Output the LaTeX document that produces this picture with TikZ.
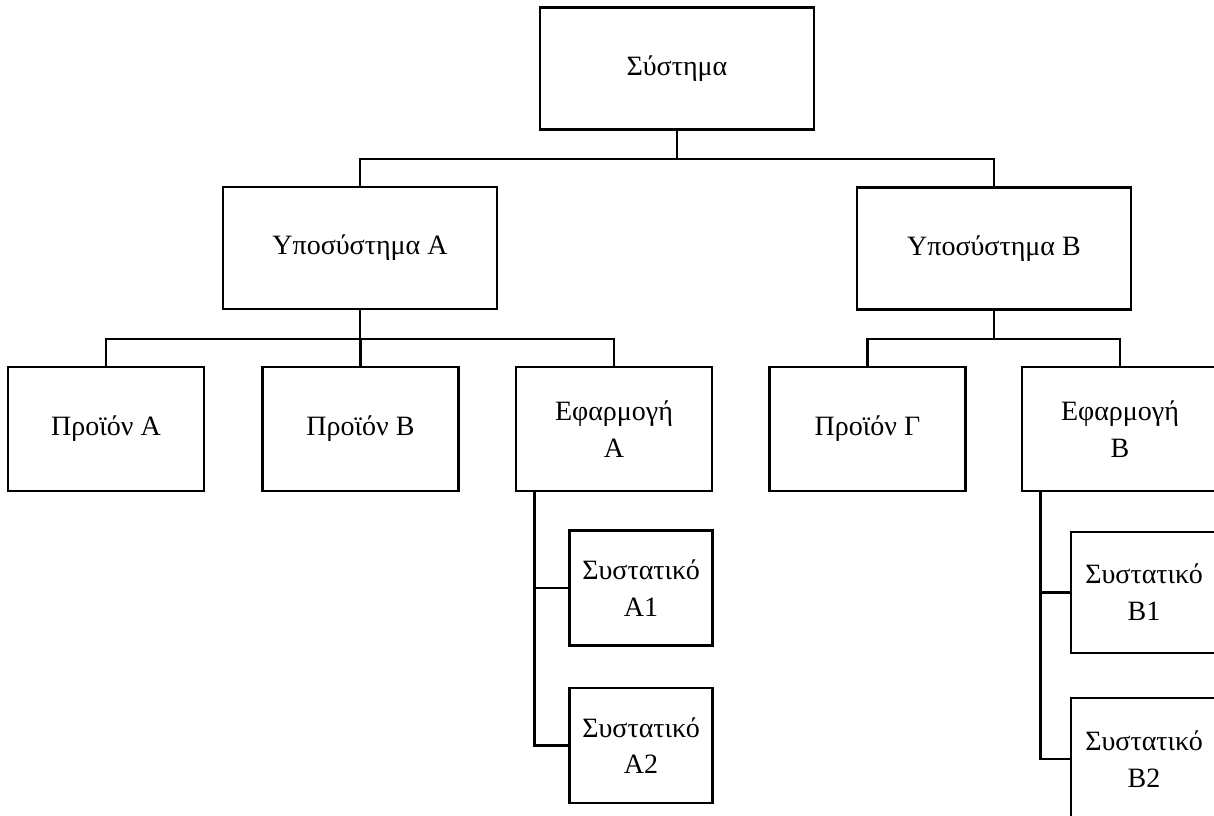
\documentclass[tikz,border=0pt]{standalone}
\usepackage{fontspec}
\setmainfont{Liberation Serif}
\usetikzlibrary{calc}
\begin{document}
\begin{tikzpicture}[x=0.75pt,y=-0.75pt,
  box/.style={draw=black,line width=2.2pt,rectangle,align=center,inner sep=0pt,
    font=\fontsize{21}{27.5}\selectfont},
  big/.style={box,minimum width=274*0.75pt,minimum height=122*0.75pt},
  mid/.style={box,minimum width=196*0.75pt,minimum height=124*0.75pt},
  small/.style={box,minimum width=143*0.75pt,minimum height=115*0.75pt},
  link/.style={draw=black,line width=2.2pt}]
\useasboundingbox (0,0) rectangle (1214,816);
\clip (0,0) rectangle (1214,816);

% top level
\node[big] (sys) at (677,68.5) {Σύστημα};

% subsystems
\node[big] (subA) at (360,248) {Υποσύστημα A};
\node[big] (subB) at (994,248.5) {Υποσύστημα B};

% products and applications
\node[mid] (pA) at (106,429) {Προϊόν A};
\node[mid] (pB) at (360.5,429) {Προϊόν B};
\node[mid] (eA) at (614,429) {Εφαρμογή\\A};
\node[mid] (pG) at (867.5,429) {Προϊόν Γ};
\node[mid] (eB) at (1120,429) {Εφαρμογή\\B};

% components
\node[small] (a1) at (641,588) {Συστατικό\\A1};
\node[small] (a2) at (641,745.5) {Συστατικό\\A2};
\node[small,minimum width=146*0.75pt,minimum height=121*0.75pt] (b1) at (1144,592.5) {Συστατικό\\B1};
\node[small,minimum width=146*0.75pt,minimum height=122*0.75pt] (b2) at (1144,759) {Συστατικό\\B2};

% junctions
\coordinate (j0) at (677,159);
\coordinate (jA) at (360,339);
\coordinate (jB) at (994,339);
\coordinate (tA) at ($(eA.south west)+(20,0)$);
\coordinate (tB) at ($(eB.south west)+(20,0)$);

% connectors
\draw[link] (sys.south) -- (j0);
\draw[link] (j0) -| (subA.north);
\draw[link] (j0) -| (subB.north);

\draw[link] (subA.south) -- (jA);
\draw[link] (jA) -| (pA.north);
\draw[link] (jA) -| (pB.north);
\draw[link] (jA) -| (eA.north);

\draw[link] (subB.south) -- (jB);
\draw[link] (jB) -| (pG.north);
\draw[link] (jB) -| (eB.north);

\draw[link] (tA) |- (a2.west);
\draw[link] (tA |- a1.west) -- (a1.west);
\draw[link] (tB) |- (b2.west);
\draw[link] (tB |- b1.west) -- (b1.west);
\end{tikzpicture}
\end{document}
